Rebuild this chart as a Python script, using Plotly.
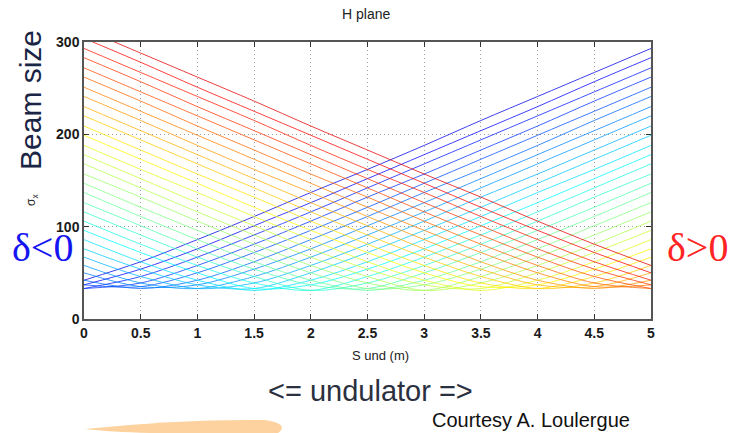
import plotly.graph_objects as go

# ---------------- data ----------------
s_und = [0, 0.5, 1, 1.5, 2, 2.5, 3, 3.5, 4, 4.5, 5]
x_tick_vals = [0, 0.5, 1, 1.5, 2, 2.5, 3, 3.5, 4, 4.5, 5]
x_tick_text = ["0", "0.5", "1", "1.5", "2", "2.5", "3", "3.5", "4", "4.5", "5"]
y_tick_vals = [0, 100, 200, 300]
y_tick_text = ["0", "100", "200", "300"]

# beam size sigma_x at each s_und, one list per energy offset (blue -> red)
sx_00 = [42, 62, 86, 111, 137, 162, 188, 215, 241, 267, 293]
sx_01 = [37, 54, 76, 101, 126, 152, 178, 204, 230, 257, 283]
sx_02 = [33, 46, 67, 91, 116, 142, 168, 194, 220, 246, 272]
sx_03 = [33, 39, 58, 81, 106, 132, 157, 183, 209, 236, 262]
sx_04 = [37, 35, 50, 72, 96, 121, 147, 173, 199, 225, 251]
sx_05 = [42, 33, 42, 62, 86, 111, 137, 162, 188, 215, 241]
sx_06 = [50, 35, 37, 54, 76, 101, 126, 152, 178, 204, 230]
sx_07 = [58, 39, 33, 46, 67, 91, 116, 142, 168, 194, 220]
sx_08 = [67, 46, 33, 39, 58, 81, 106, 132, 157, 183, 209]
sx_09 = [76, 54, 37, 33, 50, 72, 96, 121, 147, 173, 199]
sx_10 = [86, 62, 42, 31, 42, 62, 86, 111, 137, 162, 188]
sx_11 = [96, 72, 50, 33, 37, 54, 76, 101, 126, 152, 178]
sx_12 = [106, 81, 58, 39, 31, 46, 67, 91, 116, 142, 168]
sx_13 = [116, 91, 67, 46, 31, 39, 58, 81, 106, 132, 157]
sx_14 = [126, 101, 76, 54, 37, 33, 50, 72, 96, 121, 147]
sx_15 = [137, 111, 86, 62, 42, 31, 42, 62, 86, 111, 137]
sx_16 = [147, 121, 96, 72, 50, 33, 37, 54, 76, 101, 126]
sx_17 = [157, 132, 106, 81, 58, 39, 31, 46, 67, 91, 116]
sx_18 = [168, 142, 116, 91, 67, 46, 31, 39, 58, 81, 106]
sx_19 = [178, 152, 126, 101, 76, 54, 37, 33, 50, 72, 96]
sx_20 = [188, 162, 137, 111, 86, 62, 42, 31, 42, 62, 86]
sx_21 = [199, 173, 147, 121, 96, 72, 50, 35, 37, 54, 76]
sx_22 = [209, 183, 157, 132, 106, 81, 58, 39, 33, 46, 67]
sx_23 = [220, 194, 168, 142, 116, 91, 67, 46, 33, 39, 58]
sx_24 = [230, 204, 178, 152, 126, 101, 76, 54, 37, 35, 50]
sx_25 = [241, 215, 188, 162, 137, 111, 86, 62, 42, 33, 42]
sx_26 = [251, 225, 199, 173, 147, 121, 96, 72, 50, 35, 37]
sx_27 = [262, 236, 209, 183, 157, 132, 106, 81, 58, 39, 33]
sx_28 = [272, 246, 220, 194, 168, 142, 116, 91, 67, 46, 33]
sx_29 = [283, 257, 230, 204, 178, 152, 126, 101, 76, 54, 37]
sx_30 = [293, 267, 241, 215, 188, 162, 137, 111, 86, 62, 42]
sx_31 = [304, 278, 251, 225, 199, 173, 147, 121, 96, 72, 50]
sx_32 = [314, 288, 262, 236, 209, 183, 157, 132, 106, 81, 58]

beam_lines = [sx_00, sx_01, sx_02, sx_03, sx_04, sx_05, sx_06, sx_07, sx_08,
              sx_09, sx_10, sx_11, sx_12, sx_13, sx_14, sx_15, sx_16, sx_17,
              sx_18, sx_19, sx_20, sx_21, sx_22, sx_23, sx_24, sx_25, sx_26,
              sx_27, sx_28, sx_29, sx_30, sx_31, sx_32]


# ---------------- styling helpers ----------------
def jet(x):
    def c(v):
        return max(0.0, min(1.0, v))
    r = c(min(4 * x - 1.5, -4 * x + 4.5))
    g = c(min(4 * x - 0.5, -4 * x + 3.5))
    b = c(min(4 * x + 0.5, -4 * x + 2.5))
    return "rgb(%d,%d,%d)" % (round(r * 255), round(g * 255), round(b * 255))


n = len(beam_lines)
colors = [jet(0.1 + 0.8 * i / (n - 1)) for i in range(n)]

# plot area in pixels
L, R, T, B = 84, 651, 42, 319
W, H = 729, 433


def px(xp):
    return (xp - L) / (R - L)


def py(yp):
    return (B - yp) / (B - T)


fig = go.Figure()
for i, ys in enumerate(beam_lines):
    fig.add_trace(go.Scatter(
        x=s_und, y=ys, mode="lines",
        line=dict(color=colors[i], width=1, shape="spline", smoothing=0.9),
        opacity=0.75, showlegend=False, hoverinfo="skip"))

axis_common = dict(
    showgrid=True, gridcolor="#a0a0a0", griddash="1px,3px", gridwidth=1,
    zeroline=False, showline=True, linecolor="#555555", linewidth=1.5,
    mirror="allticks", ticks="inside", ticklen=5, tickcolor="#333333",
    tickfont=dict(family="Liberation Sans", size=14, color="#1a1a1a", weight="bold"),
)

fig.update_xaxes(range=[0, 5], tickmode="array", tickvals=x_tick_vals,
                 ticktext=x_tick_text, **axis_common)
fig.update_yaxes(range=[0, 300], tickmode="array", tickvals=y_tick_vals,
                 ticktext=y_tick_text, **axis_common)

ann = []


def add(text, xp, yp, size, color="#111111", family="Liberation Sans", angle=0):
    ann.append(dict(text=text, x=px(xp), y=py(yp), xref="paper", yref="paper",
                    showarrow=False, xanchor="center", yanchor="middle",
                    textangle=angle, font=dict(family=family, size=size, color=color)))


add("H plane", 366, 14, 14, "#222222")
add("Beam size", 30, 100, 30, "#1b2545", angle=-90)
add("σ<sub>x</sub>", 32, 200, 12, "#222222", angle=-90)
add("δ&lt;0", 42, 247, 40, "#1414f0", family="Liberation Serif")
add("δ&gt;0", 697, 247, 40, "#ff2424", family="Liberation Serif")
add("S und (m)", 380, 355, 13, "#222222")
add("&lt;= undulator =&gt;", 370, 391, 29, "#2b3040")
add("Courtesy A. Loulergue", 531, 420, 20, "#111111")

# orange brush stroke decoration at the bottom left
path = "M %f,%f Q %f,%f %f,%f Q %f,%f %f,%f L %f,%f Q %f,%f %f,%f Z" % (
    px(85), py(429), px(180), py(419), px(265), py(420),
    px(290), py(424), px(278), py(433), px(150), py(433),
    px(110), py(432), px(85), py(429))

fig.update_layout(
    width=W, height=H, autosize=False,
    margin=dict(l=L, r=W - R, t=T, b=H - B, pad=0),
    paper_bgcolor="white", plot_bgcolor="white",
    annotations=ann,
    shapes=[dict(type="path", path=path, xref="paper", yref="paper",
                 fillcolor="#fdd29e", line=dict(width=0), layer="below")],
)

fig.write_html("out.html")
